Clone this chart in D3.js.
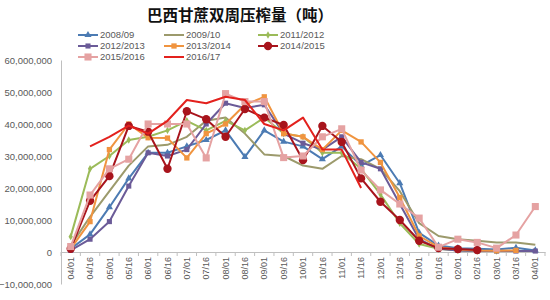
<!DOCTYPE html>
<html>
<head>
<meta charset="utf-8">
<script src="https://cdn.jsdelivr.net/npm/d3@7"></script>
<style>
  body { margin: 0; background: #fff; }
  svg { display: block; font-family: "Liberation Sans", Arial, sans-serif; }
</style>
</head>
<body>
<svg id="chart" width="550" height="300"></svg>
<script>
// categories (half-month periods, Apr -> Apr)
const categories = ['04/01','04/16','05/01','05/16','06/01','06/16','07/01','07/16','08/01','08/16',
  '09/01','09/16','10/01','10/16','11/01','11/16','12/01','12/16','01/01','01/16','02/01','02/16',
  '03/01','03/16','04/01'];

const yTicks = [-10000000, 0, 10000000, 20000000, 30000000, 40000000, 50000000, 60000000];

// crush per half-month, million tonnes
const s2008 = [1, 5.5, 14, 23, 31, 31, 33, 35, 38, 29.7, 38, 34.5, 33, 29, 33, 27, 30.3, 21.5, 6, 2, 1.2, 1, 0.8, 1.3, 0.5];
const s2009 = [2, 11, 19, 27, 33, 33.5, 36, 41, 42, 37, 30.5, 30, 27, 26, 30, 29, 26, 19, 9, 5, 4, 3.5, 3, 3, 2.3];
const s2011 = [4.8, 26, 30, 35, 36, 38, 41, 38, 41, 38, 42, 37, 36, 31, 31, 26, 18, 9, 2.5, 1, 0.5, 0.3, 0.3, null, null];
const s2012 = [0.5, 4, 9.5, 20.6, 31, 30, 32, 40, 46.5, 45, 46, 37, 34, 32, 36, 28, 26, 15, 4, 1, 0.5, 0.3, 0.3, 0.3, 0.3];
const s2013 = [1, 9.5, 32, 40, 35.7, 35.6, 29.4, 37, 40, 46, 48.5, 37, 36, 32, 38, 34.4, 28, 17, 5, 1.5, 0.8, 0.5, 0.4, 0.5, null];
const s2014 = [1, 16, 23.7, 39.4, 37.6, 26, 44, 41.5, 36, 44.7, 42, 39.7, 28.7, 39.4, 34.4, 23, 15.7, 10, 3.5, 1.2, 0.9, 0.6, null, null, null];
const s2015 = [1.7, 17.8, 26, 29, 40, 40, 40, 29.4, 49.5, 47, 47, 29.5, 30, 36, 38.5, 25.6, 19.4, 15, 10.6, 1.5, 4, 3, 1.2, 5.3, 14.2];
const s2016 = [null, 33, 36, 39.5, 37, 41, 47.5, 46.5, 48.5, 47.5, 40, 38, 42, 32, 32, 20, null, null, null, null, null, null, null, null, null];

const seriesNames = ['2008/09', '2009/10', '2011/2012', '2012/2013', '2013/2014', '2014/2015', '2015/2016', '2016/17'];
const seriesValues = [s2008, s2009, s2011, s2012, s2013, s2014, s2015, s2016];

// styling per series
const colours = ['#4c7bb3', '#9c9a6c', '#9bbb59', '#6b5b98', '#f0943f', '#a8141c', '#e5a2a2', '#e3211d'];
const symbols = [d3.symbolTriangle, null, d3.symbolDiamond, d3.symbolSquare, d3.symbolSquare, d3.symbolCircle, d3.symbolSquare, null];
const symbolSizes = [22, 0, 16, 26, 28, 55, 50, 0];

const svg = d3.select('#chart');
const margin = { top: 60, right: 5, bottom: 16, left: 61 };
const width = +svg.attr('width');
const height = +svg.attr('height');

const x = d3.scaleBand()
  .domain(d3.range(categories.length))
  .range([margin.left, width - margin.right]);

const y = d3.scaleLinear()
  .domain([-10000000, 60000000])
  .range([height - margin.bottom, margin.top]);

// Title
svg.append('text')
  .attr('x', 240)
  .attr('y', 21)
  .attr('text-anchor', 'middle')
  .style('font-family', '"Noto Sans CJK SC", sans-serif')
  .style('font-weight', 'bold')
  .style('font-size', '15.5px')
  .attr('fill', '#111')
  .text('巴西甘蔗双周压榨量（吨）');

// Y axis
const yAxisG = svg.append('g')
  .attr('transform', `translate(${margin.left},0)`)
  .call(d3.axisLeft(y).tickValues(yTicks).tickSize(0).tickPadding(9).tickFormat(d3.format(',')));
yAxisG.select('.domain').attr('stroke', '#bfbfbf');
yAxisG.selectAll('text')
  .attr('fill', '#595959')
  .style('font-size', '9.5px');

// X axis on zero line
const xAxisG = svg.append('g')
  .attr('transform', `translate(0,${y(0)})`)
  .call(d3.axisBottom(x).tickSize(0).tickFormat(i => categories[i]));
xAxisG.select('.domain').attr('stroke', '#bfbfbf');
xAxisG.selectAll('text')
  .attr('fill', '#595959')
  .style('font-size', '9px')
  .attr('text-anchor', 'end')
  .attr('transform', 'translate(0,5) rotate(-90)')
  .attr('x', 0)
  .attr('y', 0)
  .attr('dy', '0.35em');

// boundary tick marks
xAxisG.selectAll('.bound').data(d3.range(categories.length + 1))
  .join('line')
    .attr('class', 'bound')
    .attr('x1', i => margin.left + i * x.step())
    .attr('x2', i => margin.left + i * x.step())
    .attr('y1', 0)
    .attr('y2', 4)
    .attr('stroke', '#bfbfbf');

// Lines + markers
const line = d3.line()
  .defined(d => d != null)
  .x((d, i) => x(i) + x.bandwidth() / 2)
  .y(d => y(d * 1e6));

const seriesG = svg.append('g').attr('class', 'series');

seriesValues.forEach((vals, k) => {
  const g = seriesG.append('g');
  g.append('path')
    .datum(vals)
    .attr('fill', 'none')
    .attr('stroke', colours[k])
    .attr('stroke-width', 2)
    .attr('stroke-linejoin', 'round')
    .attr('d', line);

  if (symbols[k]) {
    const sym = d3.symbol().type(symbols[k]).size(symbolSizes[k]);
    g.selectAll('.pt')
      .data(vals.map((v, i) => ({ v, i })).filter(d => d.v != null))
      .join('path')
        .attr('class', 'pt')
        .attr('transform', d => `translate(${x(d.i) + x.bandwidth() / 2},${y(d.v * 1e6)})`)
        .attr('d', sym)
        .attr('fill', colours[k]);
  }
});

// Legend (3 columns)
const legendCols = [78, 164, 258];
const legendRows = [35, 46, 57];
const legendG = svg.append('g').attr('class', 'legend');

seriesNames.forEach((name, k) => {
  const lx = legendCols[k % 3];
  const ly = legendRows[Math.floor(k / 3)];
  const item = legendG.append('g').attr('transform', `translate(${lx},${ly})`);
  item.append('line')
    .attr('x1', 0).attr('x2', 20)
    .attr('stroke', colours[k])
    .attr('stroke-width', 2);
  if (symbols[k]) {
    item.append('path')
      .attr('transform', 'translate(10,0)')
      .attr('d', d3.symbol().type(symbols[k]).size(symbolSizes[k]))
      .attr('fill', colours[k]);
  }
  item.append('text')
    .attr('x', 22)
    .attr('dy', '0.35em')
    .attr('fill', '#595959')
    .style('font-size', '9.5px')
    .text(name);
});
</script>
</body>
</html>
